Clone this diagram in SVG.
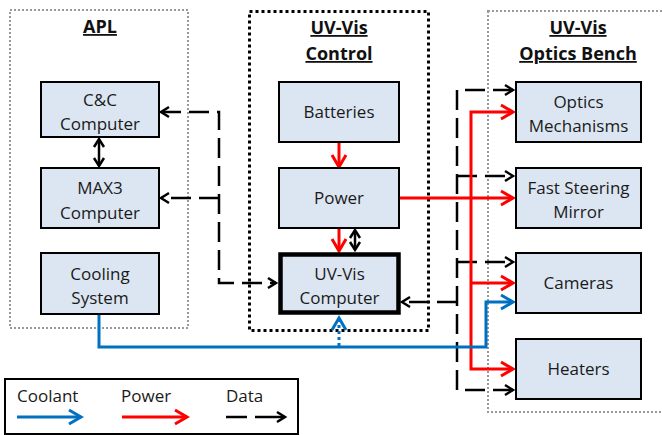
<svg xmlns="http://www.w3.org/2000/svg" width="662" height="435" viewBox="0 0 662 435">
<style>
.bg{fill:#fff}
.grp-gray{fill:none;stroke:#999;stroke-width:2;stroke-dasharray:2 2}
.grp-black{fill:none;stroke:#000;stroke-width:3;stroke-dasharray:3 3}
.box{fill:#DCE6F2;stroke:#000;stroke-width:2}
.box-thick{fill:#DCE6F2;stroke:#000;stroke-width:4.5}
.t{font-family:"Open Sans","Noto Sans",sans-serif;font-size:17px;fill:#1a1a1a;text-anchor:middle}
.title{font-family:"Open Sans","Noto Sans",sans-serif;font-size:18px;font-weight:bold;fill:#111;text-anchor:middle;text-decoration:underline}
.lt{font-family:"Open Sans","Noto Sans",sans-serif;font-size:17px;fill:#1a1a1a}
.data{fill:none;stroke:#000;stroke-width:2.5;stroke-dasharray:20 8}
.dsolid{fill:none;stroke:#000;stroke-width:2.5}
.pow{fill:none;stroke:#FF0000;stroke-width:3}
.cool{fill:none;stroke:#0070C0;stroke-width:3}
.cooldot{fill:none;stroke:#0070C0;stroke-width:3;stroke-dasharray:3 3}
.legend{fill:#fff;stroke:#000;stroke-width:2}
</style>
<defs>
<marker id="aK" markerUnits="userSpaceOnUse" markerWidth="12" markerHeight="14" refX="10" refY="7" orient="auto-start-reverse" overflow="visible">
<path d="M2,2 L10,7 L2,12" fill="none" stroke="#000" stroke-width="2.5"/>
</marker>
<marker id="aR" markerUnits="userSpaceOnUse" markerWidth="16" markerHeight="18" refX="14" refY="9" orient="auto-start-reverse" overflow="visible">
<path d="M2,2 L14,9 L2,16" fill="none" stroke="#FF0000" stroke-width="3"/>
</marker>
<marker id="aB" markerUnits="userSpaceOnUse" markerWidth="16" markerHeight="18" refX="14" refY="9" orient="auto-start-reverse" overflow="visible">
<path d="M2,2 L14,9 L2,16" fill="none" stroke="#0070C0" stroke-width="3"/>
</marker>
</defs>
<rect class="bg" x="0" y="0" width="662" height="435"/>

<g id="groups">
<g id="grp-apl">
<rect class="grp-gray" x="10" y="10" width="178" height="318"/>
<text class="title" x="100" y="33">APL</text>
</g>
<g id="grp-control">
<rect class="grp-black" x="249.5" y="11.5" width="179" height="319"/>
<text class="title" x="339" y="34">UV-Vis</text>
<text class="title" x="339" y="60">Control</text>
</g>
<g id="grp-optics">
<rect class="grp-gray" x="488" y="11" width="190" height="401"/>
<text class="title" x="578" y="34">UV-Vis</text>
<text class="title" x="578" y="60">Optics Bench</text>
</g>
</g>

<g id="connectors">
<!-- data, left tree -->
<path class="data" d="M161,112 L219,112 L219,283 L276,283" marker-start="url(#aK)" marker-end="url(#aK)"/>
<path class="data" d="M219,198 L161,198" marker-end="url(#aK)"/>
<!-- data, C&C <-> MAX3 -->
<path class="dsolid" d="M99,139 L99,166" marker-start="url(#aK)" marker-end="url(#aK)"/>
<!-- data, Power <-> UV-Vis Computer -->
<path class="dsolid" d="M355,230 L355,250" marker-start="url(#aK)" marker-end="url(#aK)"/>
<!-- data, right tree -->
<path class="data" d="M513,90 L457,90 L457,390 L513,390" marker-start="url(#aK)" marker-end="url(#aK)"/>
<path class="data" d="M457,176 L513,176" marker-end="url(#aK)"/>
<path class="data" d="M457,262 L513,262" marker-end="url(#aK)"/>
<path class="data" d="M457,302 L402,302" marker-end="url(#aK)"/>
<!-- power -->
<path class="pow" d="M339,142 L339,167" marker-end="url(#aR)"/>
<path class="pow" d="M339,228 L339,251" marker-end="url(#aR)"/>
<path class="pow" d="M400,198 L513,198" marker-end="url(#aR)"/>
<path class="pow" d="M513,112 L471,112 L471,369 L513,369" marker-start="url(#aR)" marker-end="url(#aR)"/>
<path class="pow" d="M471,283 L513,283" marker-end="url(#aR)"/>
<!-- coolant -->
<path class="cool" d="M99,314 L99,347 L486,347 L486,302 L513,302" marker-end="url(#aB)"/>
<path class="cooldot" d="M339,346 L339,318" marker-end="url(#aB)"/>
</g>

<g id="node-cc">
<rect class="box" x="41" y="82" width="118" height="55"/>
<text class="t" x="100" y="105.5">C&amp;C</text>
<text class="t" x="100" y="130">Computer</text>
</g>
<g id="node-max3">
<rect class="box" x="41" y="168" width="118" height="60"/>
<text class="t" x="100" y="194">MAX3</text>
<text class="t" x="100" y="218.5">Computer</text>
</g>
<g id="node-cooling">
<rect class="box" x="41" y="253" width="118" height="61"/>
<text class="t" x="100" y="279.5">Cooling</text>
<text class="t" x="100" y="304">System</text>
</g>
<g id="node-batteries">
<rect class="box" x="279" y="82" width="120" height="60"/>
<text class="t" x="339" y="118">Batteries</text>
</g>
<g id="node-power">
<rect class="box" x="279" y="168" width="120" height="60"/>
<text class="t" x="339" y="204">Power</text>
</g>
<g id="node-uvvis-computer">
<rect class="box-thick" x="280.5" y="254.5" width="118" height="58"/>
<text class="t" x="339.5" y="279.5">UV-Vis</text>
<text class="t" x="339.5" y="304">Computer</text>
</g>
<g id="node-optics-mech">
<rect class="box" x="516" y="82" width="125" height="60"/>
<text class="t" x="578.5" y="108">Optics</text>
<text class="t" x="578.5" y="132">Mechanisms</text>
</g>
<g id="node-fsm">
<rect class="box" x="516" y="168" width="125" height="60"/>
<text class="t" x="578.5" y="194">Fast Steering</text>
<text class="t" x="578.5" y="218">Mirror</text>
</g>
<g id="node-cameras">
<rect class="box" x="516" y="253" width="125" height="60"/>
<text class="t" x="578.5" y="289">Cameras</text>
</g>
<g id="node-heaters">
<rect class="box" x="516" y="339" width="125" height="60"/>
<text class="t" x="578.5" y="375">Heaters</text>
</g>

<g id="legend">
<rect class="legend" x="5" y="379" width="293" height="55"/>
<text class="lt" x="17" y="402">Coolant</text>
<text class="lt" x="121" y="402">Power</text>
<text class="lt" x="226" y="402">Data</text>
<path class="cool" d="M17,417 L81,417" marker-end="url(#aB)"/>
<path class="pow" d="M122,417 L187,417" marker-end="url(#aR)"/>
<path class="dsolid" d="M226,417 L247,417"/>
<path class="dsolid" d="M255,417 L285,417" marker-end="url(#aK)"/>
</g>
</svg>
